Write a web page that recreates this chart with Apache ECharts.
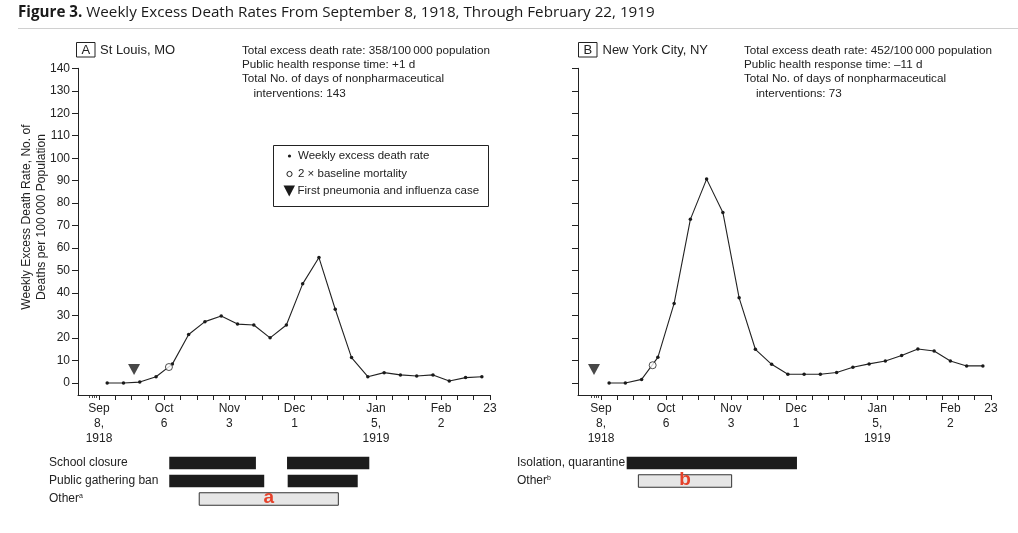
<!DOCTYPE html>
<html><head><meta charset="utf-8">
<script src="https://cdn.jsdelivr.net/npm/echarts@6/dist/echarts.min.js"></script>
<style>html,body{margin:0;padding:0;background:#fff}#c{width:1018px;height:533px}</style>
</head><body><div id="c"></div>
<script>
// ---------- data ----------
const weekMid = [0.5,1.5,2.5,3.5,4.5,5.5,6.5,7.5,8.5,9.5,10.5,11.5,12.5,13.5,14.5,15.5,16.5,17.5,18.5,19.5,20.5,21.5,22.5,23.5];
const stlRate = [0,0,0.4,2.8,8.4,21.6,27.3,29.8,26.2,25.8,20.1,25.8,44.1,55.8,32.8,11.3,2.8,4.6,3.6,3.1,3.6,0.9,2.4,2.8];
const nycRate = [0,0,1.6,11.4,35.4,72.8,90.7,75.9,37.9,15.0,8.3,3.9,3.9,3.9,4.7,7.0,8.5,9.8,12.2,15.1,14.2,9.8,7.6,7.6];
const stlBaseline2x = [4.29, 7.1];
const nycBaseline2x = [3.18, 7.9];
const stlFirstCase = [2.15, 6.0];
const nycFirstCase = [-0.43, 6.0];
const yTicks = [0,10,20,30,40,50,60,70,80,90,100,110,120,130,140];
const weekTicks = [0,1,2,3,4,5,6,7,8,9,10,11,12,13,14,15,16,17,18,19,20,21,22,23,24];
const dayTicks = [-0.571,-0.429,-0.286,-0.143];
const stlXLabelPos = [0,4,8,12,17,21,24];
const nycXLabelPos = [0,4,8,12,17,21.5,24];
const xLabelText = ['Sep\n8,\n1918','Oct\n6','Nov\n3','Dec\n1','Jan\n5,\n1919','Feb\n2','23'];
const stlRows = ['School closure','Public gathering ban','Other{sup|a}'];
const nycRows = ['Isolation, quarantine','Other{sup|b}'];
const stlBars = [[4.31,9.63,0],[11.54,16.59,0],[4.31,10.14,1],[11.58,15.88,1]];
const stlOther = [[6.15,14.69,2,'a']];
const nycBars = [[1.58,12.06,0]];
const nycOther = [[2.30,8.04,1,'b']];

// ---------- chart ----------
const FONT = 'Liberation Sans, Arial, sans-serif';
const TXT = '#222';
const chart = echarts.init(document.getElementById('c'), null, {renderer:'canvas'});

function mkX(grid, min, labelPos){
  return {
    type:'value', gridIndex:grid, min:min, max:24, position:'bottom',
    axisLine:{show:true, onZero:false, lineStyle:{color:'#222', width:1}},
    axisTick:{show:true, customValues:weekTicks, length:5, lineStyle:{color:'#222'}},
    axisLabel:{show:true, customValues:labelPos, margin:6, color:TXT, fontFamily:FONT, fontSize:12, lineHeight:15,
      formatter:v=>{const i=labelPos.indexOf(v);return i>=0?xLabelText[i]:'';}},
    splitLine:{show:false}
  };
}
function mkDayX(grid, min){
  return {type:'value', gridIndex:grid, min:min, max:24, position:'bottom',
    axisLine:{show:false, onZero:false}, axisLabel:{show:false}, splitLine:{show:false},
    axisTick:{show:true, customValues:dayTicks, length:3, lineStyle:{color:'#222', width:0.8}}};
}
function mkY(grid, labels){
  return {type:'value', gridIndex:grid, min:-5.34, max:140,
    axisLine:{show:true, onZero:false, lineStyle:{color:'#222', width:1}},
    axisTick:{show:true, customValues:yTicks, length:6, lineStyle:{color:'#222'}},
    axisLabel:{show:labels, customValues:yTicks, margin:8, color:TXT, fontFamily:FONT, fontSize:12},
    splitLine:{show:false}};
}
function mkBarX(grid, min){
  return {type:'value', gridIndex:grid, min:min, max:24, show:false};
}
function mkBarY(grid, rows, margin){
  return {type:'category', gridIndex:grid, data:rows, inverse:true,
    axisLine:{show:false}, axisTick:{show:false}, splitLine:{show:false},
    axisLabel:{show:true, align:'left', margin:margin, color:TXT, fontFamily:FONT, fontSize:12,
      rich:{sup:{fontSize:7, verticalAlign:'top', padding:[0,0,6,0], color:TXT, fontFamily:FONT}}}};
}
function barRender(fill, stroke){
  return function(params, api){
    const s = api.coord([api.value(0), api.value(2)]);
    const e = api.coord([api.value(1), api.value(2)]);
    const h = 12.5;
    const children = [{type:'rect', shape:{x:s[0], y:s[1]-h/2, width:e[0]-s[0], height:h},
      style:{fill:fill, stroke:stroke, lineWidth:stroke?1:0}}];
    const lbl = api.value(3);
    if (typeof lbl === 'string' && lbl.length){
      children.push({type:'text', x:(s[0]+e[0])/2, y:s[1]-1,
        style:{text:lbl, fill:'#e5412a', font:'bold 19px '+FONT, textAlign:'center', textVerticalAlign:'middle'}});
    }
    return {type:'group', children:children};
  };
}
function lineSeries(xi, yi, vals){
  return {type:'line', xAxisIndex:xi, yAxisIndex:yi, data:weekMid.map((w,i)=>[w, vals[i]]),
    symbol:'circle', symbolSize:3.5, showAllSymbol:true,
    itemStyle:{color:'#1a1a1a'}, lineStyle:{color:'#222', width:1.1}, z:3};
}
function circleSeries(xi, yi, pt){
  return {type:'scatter', xAxisIndex:xi, yAxisIndex:yi, data:[pt], symbol:'circle', symbolSize:7,
    itemStyle:{color:'#fff', borderColor:'#222', borderWidth:1}, z:5};
}
function triSeries(xi, yi, pt){
  return {type:'scatter', xAxisIndex:xi, yAxisIndex:yi, data:[pt], symbol:'triangle', symbolRotate:180,
    symbolSize:[12,11], itemStyle:{color:'#1a1a1a'}, z:5};
}
function txt(x, y, t, extra){
  return Object.assign({type:'text', x:x, y:y, style:Object.assign({text:t, fill:TXT, font:'11.7px '+FONT, textVerticalAlign:'middle'}, extra||{})});
}

const option = {
  animation:false,
  backgroundColor:'#fff',
  grid:[
    {left:78, top:68.3, width:412, height:326.7},
    {left:578, top:68.3, width:413, height:326.7},
    {left:78, top:454, width:412, height:54},
    {left:578, top:454, width:413, height:36}
  ],
  xAxis:[
    mkX(0, -1.292, stlXLabelPos), mkDayX(0, -1.292),
    mkX(1, -1.415, nycXLabelPos), mkDayX(1, -1.415),
    mkBarX(2, -1.292), mkBarX(3, -1.415)
  ],
  yAxis:[
    mkY(0, true), mkY(1, false),
    mkBarY(2, stlRows, 29), mkBarY(3, nycRows, 61)
  ],
  series:[
    lineSeries(0,0,stlRate), circleSeries(0,0,stlBaseline2x), triSeries(0,0,stlFirstCase),
    lineSeries(2,1,nycRate), circleSeries(2,1,nycBaseline2x), triSeries(2,1,nycFirstCase),
    {type:'custom', xAxisIndex:4, yAxisIndex:2, data:stlBars, renderItem:barRender('#1c1c1c', null), encode:{x:[0,1], y:2}},
    {type:'custom', xAxisIndex:4, yAxisIndex:2, data:stlOther, renderItem:barRender('#e6e6e6', '#333'), encode:{x:[0,1], y:2}},
    {type:'custom', xAxisIndex:5, yAxisIndex:3, data:nycBars, renderItem:barRender('#1c1c1c', null), encode:{x:[0,1], y:2}},
    {type:'custom', xAxisIndex:5, yAxisIndex:3, data:nycOther, renderItem:barRender('#e6e6e6', '#333'), encode:{x:[0,1], y:2}}
  ],
  graphic:[
    // title
    {type:'text', x:18, y:12.5, style:{text:'{b|Figure 3.} Weekly Excess Death Rates From September 8, 1918, Through February 22, 1919',
      textVerticalAlign:'middle', fill:'#1a1a1a', font:'15.2px Open Sans',
      rich:{b:{font:'bold 15.2px Open Sans', fill:'#1a1a1a'}}}},
    {type:'line', shape:{x1:18, y1:28.5, x2:1018, y2:28.5}, style:{stroke:'#d0d0d0', lineWidth:1}},
    // y axis title
    {type:'text', x:34.5, y:217, rotation:Math.PI/2,
      style:{text:'Weekly Excess Death Rate, No. of\nDeaths per 100\u2009000 Population', fill:TXT, font:'12.1px '+FONT,
        textAlign:'center', textVerticalAlign:'middle', lineHeight:15}},
    // panel A header
    {type:'rect', shape:{x:76.5, y:42.5, width:18.5, height:14.5}, style:{fill:'none', stroke:'#222', lineWidth:1}},
    txt(85.8, 50, 'A', {font:'13px '+FONT, textAlign:'center'}),
    txt(100, 50, 'St Louis, MO', {font:'13px '+FONT}),
    txt(242, 50.5, 'Total excess death rate: 358/100\u2009000 population'),
    txt(242, 64.5, 'Public health response time: +1 d'),
    txt(242, 79, 'Total No. of days of nonpharmaceutical'),
    txt(253.5, 93.3, 'interventions: 143'),
    // panel B header
    {type:'rect', shape:{x:578.5, y:42.5, width:18.5, height:14.5}, style:{fill:'none', stroke:'#222', lineWidth:1}},
    txt(587.8, 50, 'B', {font:'13px '+FONT, textAlign:'center'}),
    txt(602.5, 50, 'New York City, NY', {font:'13px '+FONT}),
    txt(744, 50.5, 'Total excess death rate: 452/100\u2009000 population'),
    txt(744, 64.5, 'Public health response time: \u201311 d'),
    txt(744, 79, 'Total No. of days of nonpharmaceutical'),
    txt(756, 93.3, 'interventions: 73'),
    // legend
    {type:'rect', shape:{x:273.5, y:145.5, width:215, height:61}, style:{fill:'#fff', stroke:'#222', lineWidth:1}, z:10},
    {type:'circle', shape:{cx:289.5, cy:156, r:1.6}, style:{fill:'#1a1a1a'}, z:11},
    txt(298, 156, 'Weekly excess death rate', {font:'11.5px '+FONT}),
    {type:'circle', shape:{cx:289.5, cy:174, r:2.6}, style:{fill:'#fff', stroke:'#222', lineWidth:1}, z:11},
    txt(298, 174, '2 \u00d7 baseline mortality', {font:'11.5px '+FONT}),
    {type:'polygon', shape:{points:[[283.5,185.5],[295,185.5],[289.25,196.5]]}, style:{fill:'#1a1a1a'}, z:11},
    txt(297.5, 191, 'First pneumonia and influenza case', {font:'11.5px '+FONT})
  ]
};
option.graphic.forEach(g=>{ if(g.type==='text' && g.z===undefined) g.z = 11; });
chart.setOption(option);
</script></body></html>
